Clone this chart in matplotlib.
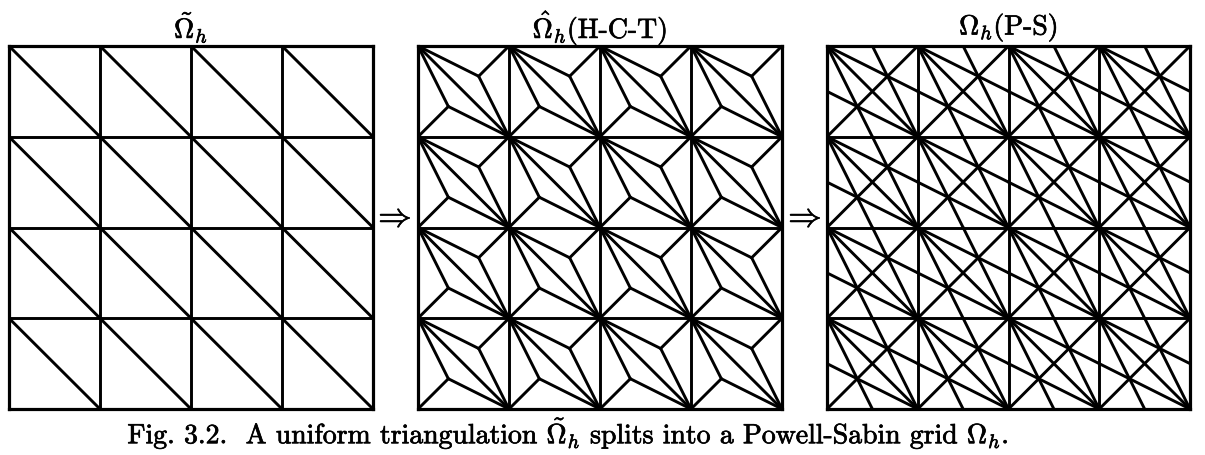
import matplotlib
matplotlib.use("Agg")
import matplotlib.pyplot as plt
import matplotlib.patheffects as pe
from matplotlib.collections import LineCollection

plt.rcParams['mathtext.fontset'] = 'cm'
plt.rcParams['font.family'] = ['cmr10', 'DejaVu Serif']

# grid data
n_cells = 4
titles = [r"$\tilde{\Omega}_h$", r"$\hat{\Omega}_h$(H-C-T)", r"$\Omega_h$(P-S)"]
caption = r"Fig. 3.2.  A uniform triangulation $\tilde{\Omega}_h$ splits into a Powell-Sabin grid $\Omega_h$."

# panel boxes in pixels (left, top, right, bottom)
W, H = 1205, 455
panels_px = [(9, 46, 373, 409), (418, 46, 782, 409), (827, 46, 1190, 409)]
arrows_x = [392, 802]

# scanned print looks a bit heavier than plain cmr10
bold_fx = [pe.withStroke(linewidth=0.5, foreground='black')]


def triangles(n):
    """Uniform triangulation, every square cut by its top-left -> bottom-right diagonal."""
    tris = []
    for i in range(n):
        for j in range(n):
            a = (i, j)
            b = (i + 1, j)
            c = (i + 1, j + 1)
            d = (i, j + 1)
            tris.append((a, b, c))
            tris.append((a, d, c))
    return tris


def base_segments(n):
    segs = []
    for k in range(n + 1):
        segs.append([(k, 0), (k, n)])
        segs.append([(0, k), (n, k)])
    for i in range(n):
        for j in range(n):
            segs.append([(i, j), (i + 1, j + 1)])
    return segs


def hct_segments(tris):
    # centroid joined to the three vertices
    segs = []
    for t in tris:
        gx = sum(p[0] for p in t) / 3
        gy = sum(p[1] for p in t) / 3
        for p in t:
            segs.append([(gx, gy), p])
    return segs


def ps_segments(tris):
    # medians: vertex -> midpoint of opposite edge
    segs = []
    for t in tris:
        for k in range(3):
            p = t[k]
            q, r = t[(k + 1) % 3], t[(k + 2) % 3]
            m = ((q[0] + r[0]) / 2, (q[1] + r[1]) / 2)
            segs.append([p, m])
    return segs


fig = plt.figure(figsize=(W / 100, H / 100), dpi=100)

tris = triangles(n_cells)
seg_sets = [
    base_segments(n_cells),
    base_segments(n_cells) + hct_segments(tris),
    base_segments(n_cells) + ps_segments(tris),
]

for (l, t, r, b), segs, title in zip(panels_px, seg_sets, titles):
    ax = fig.add_axes([l / W, 1 - b / H, (r - l) / W, (b - t) / H])
    ax.add_collection(LineCollection(segs, colors='black', linewidths=2.1,
                                     capstyle='round'))
    ax.set_xlim(0, n_cells)
    ax.set_ylim(n_cells, 0)
    ax.set_xticks([])
    ax.set_yticks([])
    for s in ax.spines.values():
        s.set_linewidth(2.3)
    fig.text((l + r) / 2 / W, 1 - 27 / H, title, ha='center', va='center',
             fontsize=20, path_effects=bold_fx)

for x in arrows_x:
    fig.text(x / W, 1 - 218 / H, r"$\Rightarrow$", ha='center', va='center',
             fontsize=24, path_effects=bold_fx)

fig.text(568 / W, 1 - 433 / H, caption, ha='center', va='center', fontsize=20,
         path_effects=bold_fx)

fig.savefig("out.png", dpi=100)
